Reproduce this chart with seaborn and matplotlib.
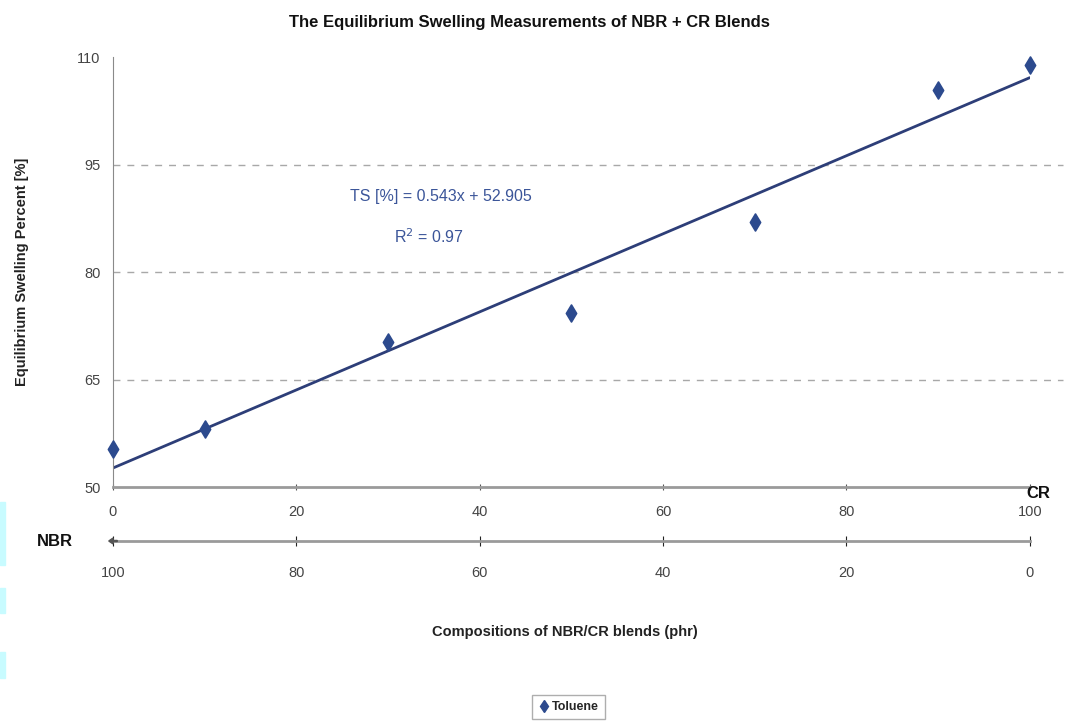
import matplotlib
matplotlib.use("Agg")
import matplotlib.pyplot as plt
from matplotlib.patches import Rectangle, FancyArrow
from matplotlib.lines import Line2D
import seaborn as sns
import pandas as pd

cr_phr = [0, 10, 30, 50, 70, 90, 100]
swelling = [55.4, 58.1, 70.3, 74.3, 87.0, 105.4, 108.9]
y_ticks = [50, 65, 80, 95, 110]
cr_ticks = [0, 20, 40, 60, 80, 100]
nbr_tick_labels = ["100", "80", "60", "40", "20", "0"]

df = pd.DataFrame({"CR": cr_phr, "Swelling": swelling})

sns.set_style("white")
plt.rcParams['font.family'] = ['Liberation Sans', 'DejaVu Sans']

fig = plt.figure(figsize=(10.66, 7.24), dpi=100)
ax = fig.add_axes([0.106, 0.327, 0.860, 0.594])

navy = "#2d3e78"
mk = "#2c4a8e"
sns.regplot(data=df, x="CR", y="Swelling", ax=ax, ci=None, scatter=False,
            line_kws=dict(color=navy, lw=2.0))
sns.scatterplot(data=df, x="CR", y="Swelling", ax=ax, marker="d", s=75,
                color=mk, edgecolor=mk, linewidth=1.2, zorder=5, legend=False, clip_on=False)

ax.set_xlim(0, 100)
ax.set_ylim(50, 110)
ax.set_yticks(y_ticks)
ax.set_xticks(cr_ticks)
for v in [65, 80, 95]:
    ax.axhline(v, xmin=0, xmax=1.036, color="#a8a8a8", lw=1.0, ls=(0, (5, 5)),
               zorder=0, clip_on=False)

for s in ["top", "right"]:
    ax.spines[s].set_visible(False)
ax.spines["left"].set_color("#8a8a8a")
ax.spines["bottom"].set_color("#9a9a9a")
ax.spines["bottom"].set_linewidth(2.0)
ax.tick_params(axis="y", length=5, color="#8a8a8a", labelsize=10.5, labelcolor="#444444", pad=4)
ax.tick_params(axis="x", length=5, direction="inout", color="#555555", labelsize=10.5,
               labelcolor="#444444", pad=10)
ax.set_xlabel("")
ax.set_ylabel("Equilibrium Swelling Percent [%]", fontsize=10.5, fontweight="bold",
              color="#222222", labelpad=35)

# secondary NBR axis
ax2 = ax.twiny()
ax2.set_xlim(0, 100)
ax2.xaxis.set_ticks_position("bottom")
ax2.xaxis.set_label_position("bottom")
ax2.spines["bottom"].set_position(("outward", 39))
for s in ["top", "right", "left"]:
    ax2.spines[s].set_visible(False)
ax2.spines["bottom"].set_color("#9a9a9a")
ax2.spines["bottom"].set_linewidth(2.0)
ax2.set_xticks(cr_ticks)
ax2.set_xticklabels(nbr_tick_labels)
ax2.tick_params(axis="x", length=7, direction="inout", color="#222222", labelsize=10.5,
                labelcolor="#444444", pad=14)
ax2.patch.set_visible(False)

# arrow at left end of NBR axis
fig.patches.append(FancyArrow(0.110, 1 - 541 / 724, -0.004, 0,
                              width=0.0015, head_width=0.008,
                              head_length=0.004, color="#555555",
                              transform=fig.transFigure))

fig.text(0.035, 1 - 541 / 724, "NBR", fontsize=12, fontweight="bold", ha="left", va="center",
         color="#111111")
fig.text(0.985, 1 - 494 / 724, "CR", fontsize=12, fontweight="bold", ha="right", va="center",
         color="#111111")

fig.text(0.497, 1 - 22 / 724, "The Equilibrium Swelling Measurements of NBR + CR Blends",
         fontsize=12, fontweight="bold", ha="center", va="center", color="#111111")
fig.text(0.530, 1 - 632 / 724, "Compositions of NBR/CR blends (phr)", fontsize=10.5,
         fontweight="bold", ha="center", va="center", color="#222222")

ax.text(35.8, 90.5, "TS [%] = 0.543x + 52.905", fontsize=11.5, color="#3b5599",
        ha="center", va="center")
ax.text(34.5, 85.0, "R$^2$ = 0.97", fontsize=11.5, color="#3b5599", ha="center", va="center")

# legend
h = [Line2D([], [], marker="d", color=mk, ls="none", markersize=6)]
leg = fig.legend(h, ["Toluene"], loc="center", bbox_to_anchor=(0.533, 1 - 707 / 724),
                 frameon=True, fancybox=False, edgecolor="#9a9a9a", handletextpad=0.1,
                 handlelength=1.0, borderpad=0.5, prop=dict(size=9, weight="bold"))

# cyan scan artifacts along left edge
for y0, y1 in [(502, 565), (588, 613), (652, 678)]:
    fig.patches.append(Rectangle((0, 1 - y1 / 724), 5 / 1066, (y1 - y0) / 724,
                                 transform=fig.transFigure, color="#c8fbff", zorder=0))

fig.savefig("out.png", dpi=100)
